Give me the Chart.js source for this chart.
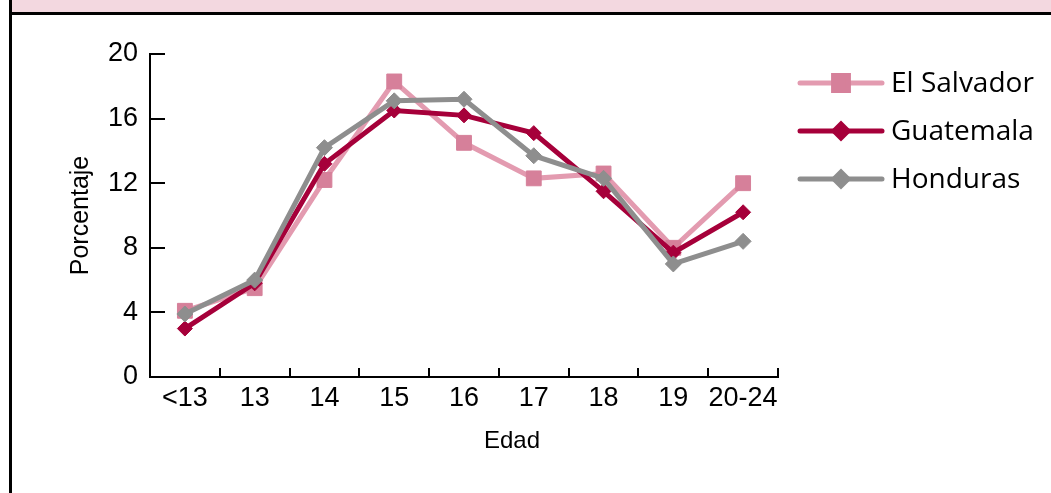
<!DOCTYPE html>
<html>
<head>
<meta charset="utf-8">
<script src="https://cdn.jsdelivr.net/npm/chart.js@4.4.1/dist/chart.umd.min.js"></script>
<style>
  body { margin: 0; background: #fff; }
  #marco { position: relative; width: 1051px; height: 493px; overflow: hidden; }
  #banda { position: absolute; left: 12px; top: 0; right: 0; height: 12px; background: #f3d8e0; }
  #linhaTopo { position: absolute; left: 9px; top: 12px; right: 0; height: 3px; background: #000; }
  #linhaEsq { position: absolute; left: 9px; top: 0; bottom: 0; width: 3px; background: #000; }
  canvas { position: absolute; left: 0; top: 0; }
</style>
</head>
<body>
<div id="marco">
  <canvas id="grafico_edad" width="1051" height="493"></canvas>
  <div id="banda"></div>
  <div id="linhaTopo"></div>
  <div id="linhaEsq"></div>
</div>
<script>
// categorias de edad y porcentajes por pais
const edades = ['<13', '13', '14', '15', '16', '17', '18', '19', '20-24'];
const elSalvador = [4.1, 5.5, 12.2, 18.3, 14.5, 12.3, 12.6, 8.0, 12.0];
const guatemala = [3.0, 5.8, 13.2, 16.5, 16.2, 15.1, 11.5, 7.7, 10.2];
const honduras = [3.9, 6.0, 14.2, 17.1, 17.2, 13.7, 12.3, 7.0, 8.4];
const ticksY = [0, 4, 8, 12, 16, 20];

const fonteEixo = "'Liberation Sans', Arial, sans-serif";

// marcas dos eixos viradas para dentro + titulo "Edad"
const marcasEjes = {
  id: 'marcasEjes',
  afterDraw(chart) {
    const { ctx, chartArea, scales: { x, y } } = chart;
    ctx.save();
    ctx.strokeStyle = '#000';
    ctx.lineWidth = 2;
    y.ticks.forEach((t) => {
      const py = Math.round(y.getPixelForValue(t.value));
      ctx.beginPath();
      ctx.moveTo(chartArea.left, py);
      ctx.lineTo(chartArea.left + 15, py);
      ctx.stroke();
    });
    for (let i = 1; i <= edades.length; i++) {
      const px = Math.round(x.getPixelForValue(i - 0.5));
      ctx.beginPath();
      ctx.moveTo(px, chartArea.bottom);
      ctx.lineTo(px, chartArea.bottom - 9);
      ctx.stroke();
    }
    ctx.fillStyle = '#000';
    ctx.font = `24px ${fonteEixo}`;
    ctx.textAlign = 'center';
    ctx.textBaseline = 'middle';
    ctx.fillText('Edad', (chartArea.left + chartArea.right) / 2 + 48, chartArea.bottom + 64);
    ctx.restore();
  }
};

// legenda com linha + marcador
const leyenda = {
  id: 'leyenda',
  afterDraw(chart) {
    const { ctx, chartArea } = chart;
    ctx.save();
    chart.data.datasets.forEach((ds, i) => {
      const x0 = chartArea.right + 22;
      const x1 = x0 + 82;
      const yy = 83 + i * 48;
      ctx.strokeStyle = ds.borderColor;
      ctx.lineWidth = 5;
      ctx.lineCap = 'round';
      ctx.beginPath();
      ctx.moveTo(x0, yy);
      ctx.lineTo(x1, yy);
      ctx.stroke();
      ctx.fillStyle = ds.pointBackgroundColor;
      ctx.strokeStyle = ds.pointBorderColor;
      Chart.helpers.drawPoint(ctx, {
        pointStyle: ds.pointStyle,
        radius: ds.pointStyle === 'rect' ? 10.5 : 7,
        rotation: 0,
        borderWidth: 1
      }, (x0 + x1) / 2, yy);
      ctx.fillStyle = '#000';
      ctx.font = "28px 'Open Sans', sans-serif";
      ctx.textAlign = 'left';
      ctx.textBaseline = 'middle';
      ctx.fillText(ds.label, x1 + 9, yy + 1);
    });
    ctx.restore();
  }
};

function criarGrafico() {
  const ctx = document.getElementById('grafico_edad');

  const data = {
    labels: edades,
    datasets: [
      {
        label: 'El Salvador',
        data: elSalvador,
        borderColor: '#e39bb0',
        borderWidth: 5,
        pointStyle: 'rect',
        pointRadius: 10.5,
        pointBackgroundColor: '#d6809a',
        pointBorderColor: '#d6809a',
        pointBorderWidth: 1,
        tension: 0,
        order: 3
      },
      {
        label: 'Guatemala',
        data: guatemala,
        borderColor: '#a6003a',
        borderWidth: 5,
        pointStyle: 'rectRot',
        pointRadius: 7.5,
        pointBackgroundColor: '#a6003a',
        pointBorderColor: '#a6003a',
        pointBorderWidth: 1,
        tension: 0,
        order: 2
      },
      {
        label: 'Honduras',
        data: honduras,
        borderColor: '#8e8e8e',
        borderWidth: 5,
        pointStyle: 'rectRot',
        pointRadius: 8,
        pointBackgroundColor: '#8e8e8e',
        pointBorderColor: '#8e8e8e',
        pointBorderWidth: 1,
        tension: 0,
        order: 1
      }
    ]
  };

  const options = {
    responsive: false,
    animation: false,
    layout: { padding: { top: 54, right: 273, bottom: 0, left: 0 } },
    plugins: {
      legend: { display: false },
      tooltip: { enabled: false }
    },
    scales: {
      x: {
        offset: true,
        grid: { display: false, drawTicks: false },
        border: { display: true, color: '#000', width: 2 },
        ticks: {
          color: '#000',
          padding: 5,
          maxRotation: 0,
          autoSkip: false,
          font: { family: fonteEixo, size: 27 }
        },
        afterFit: (scale) => { scale.height = 116; }
      },
      y: {
        min: 0,
        max: 20,
        afterBuildTicks: (scale) => { scale.ticks = ticksY.map((v) => ({ value: v })); },
        grid: { display: false, drawTicks: false },
        border: { display: true, color: '#000', width: 2 },
        ticks: {
          color: '#000',
          padding: 12,
          font: { family: fonteEixo, size: 27 }
        },
        title: {
          display: true,
          text: 'Porcentaje',
          color: '#000',
          padding: { top: 66, bottom: 0 },
          font: { family: fonteEixo, size: 25 }
        },
        afterFit: (scale) => { scale.width = 150; }
      }
    }
  };

  new Chart(ctx, {
    type: 'line',
    data: data,
    options: options,
    plugins: [marcasEjes, leyenda]
  });
}

criarGrafico();
</script>
</body>
</html>
